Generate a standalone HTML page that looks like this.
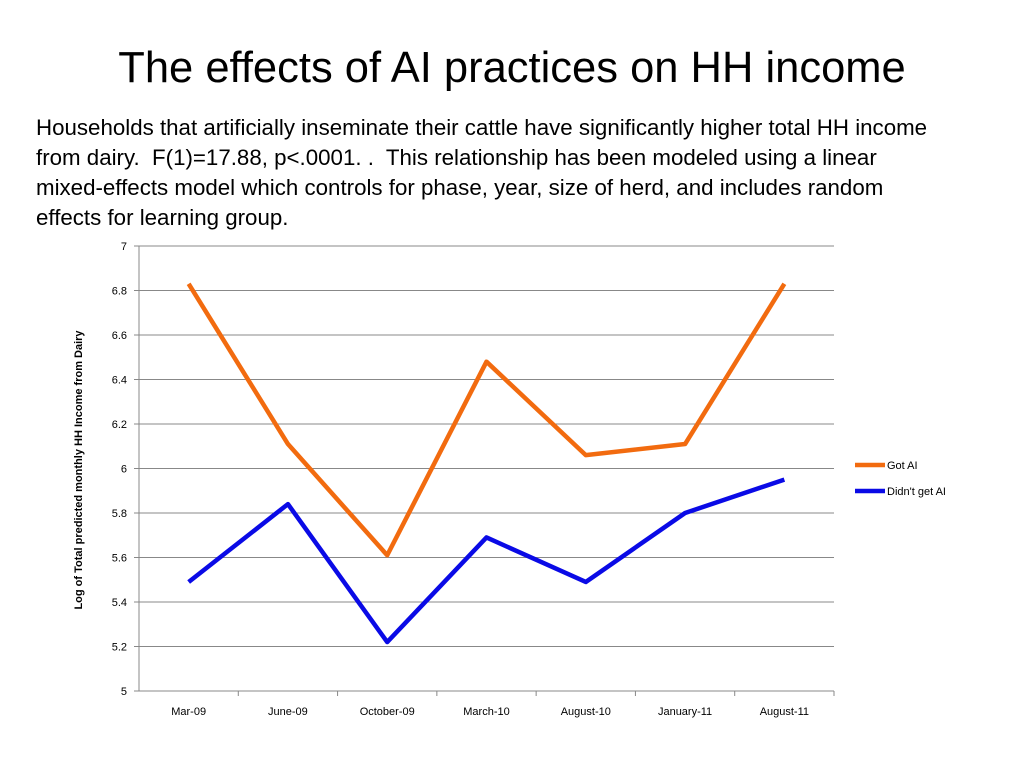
<!DOCTYPE html>
<html><head><meta charset="utf-8"><style>
body{margin:0;width:1024px;height:768px;background:#fff;font-family:"Liberation Sans",sans-serif;overflow:hidden;position:relative}
#title{position:absolute;top:44px;left:0;width:1024px;text-align:center;font-size:43.5px;color:#000}
#desc{position:absolute;top:113px;left:36px;width:960px;font-size:22.3px;line-height:30px;color:#000;white-space:nowrap}
svg{position:absolute;left:0;top:0}
</style></head><body>
<div id="title">The effects of AI practices on HH income</div>
<div id="desc">Households that artificially inseminate their cattle have significantly higher total HH income<br>from dairy.&nbsp; F(1)=17.88, p&lt;.0001. .&nbsp; This relationship has been modeled using a linear<br>mixed-effects model which controls for phase, year, size of herd, and includes random<br>effects for learning group.</div>
<svg id="chart" width="1024" height="768"></svg>
<script>
const categories=["Mar-09","June-09","October-09","March-10","August-10","January-11","August-11"];
const gotAI=[6.83,6.11,5.61,6.48,6.06,6.11,6.83];
const noAI=[5.49,5.84,5.22,5.69,5.49,5.80,5.95];
const yTicks=[5,5.2,5.4,5.6,5.8,6,6.2,6.4,6.6,6.8,7];
const NS="http://www.w3.org/2000/svg";
const svg=document.getElementById('chart');
const L=139,R=834,T=246,B=691;
const x=i=>L+(R-L)/categories.length*(i+0.5);
const y=v=>B-(v-5)/2*(B-T);
function mk(t,a,p){const e=document.createElementNS(NS,t);for(const k in a)e.setAttribute(k,a[k]);(p||svg).appendChild(e);return e;}
yTicks.forEach(v=>{
 if(v>5){const g=mk('line',{x1:L,x2:R,y1:y(v),y2:y(v),stroke:'#888','stroke-width':1});
 
 }
 const t=mk('text',{x:L-12,y:y(v)+4,'text-anchor':'end','font-size':11,'font-family':'Liberation Sans'});t.textContent=String(v);
 
 
 mk('line',{x1:L-5,x2:L,y1:y(v),y2:y(v),stroke:'#888'});
});
mk('line',{x1:L,x2:L,y1:T,y2:B,stroke:'#888'});
mk('line',{x1:L,x2:R,y1:B,y2:B,stroke:'#888'});
categories.forEach((c,i)=>{
 const edge=L+(R-L)/categories.length*(i+1);
 mk('line',{x1:edge,x2:edge,y1:B,y2:B+5,stroke:'#888'});
 const t=mk('text',{x:x(i),y:B+24,'text-anchor':'middle','font-size':11,'font-family':'Liberation Sans'});t.textContent=c;
 
 
});
function series(d,col,name){
 const p=mk('polyline',{points:d.map((v,i)=>x(i)+','+y(v)).join(' '),fill:'none',stroke:col,'stroke-width':4.5,'stroke-linejoin':'round'});
 
 
}
series(gotAI,'#f26b0f','got-ai-line');
series(noAI,'#0a0ae6','didnt-get-ai-line');
const yt=mk('text',{x:0,y:0,transform:'translate(82,470) rotate(-90)','text-anchor':'middle','font-size':11,'font-weight':'bold','font-family':'Liberation Sans'});
yt.textContent='Log of Total predicted monthly HH Income from Dairy';


[['Got AI','#f26b0f',465],["Didn't get AI",'#0a0ae6',491]].forEach(([n,c,yy])=>{
 const g=mk('g',{});
 
 
 mk('line',{x1:855,x2:885,y1:yy,y2:yy,stroke:c,'stroke-width':4.5},g);
 const t=mk('text',{x:887,y:yy+4,'font-size':11,'font-family':'Liberation Sans'},g);t.textContent=n;
});
</script>
</body></html>
